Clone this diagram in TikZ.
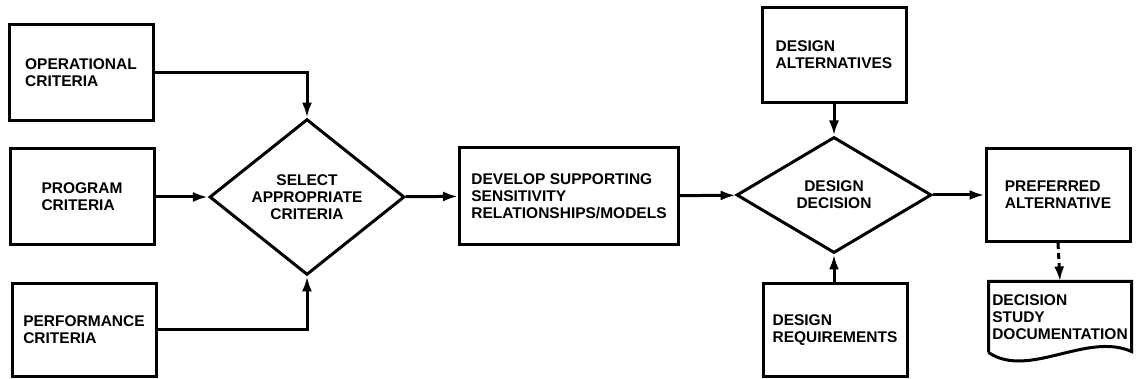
\documentclass[tikz,border=0pt]{standalone}
\usepackage{fontspec}
\setmainfont{Liberation Sans}
\usetikzlibrary{arrows.meta,positioning,shapes.geometric}

\begin{document}
\begin{tikzpicture}[x=1pt,y=-1pt,line width=3pt,>={Latex[length=15pt,width=10pt]},
    font=\bfseries\fontsize{15.5}{17}\selectfont]
  \tikzstyle{block}=[draw,rectangle,align=left,inner sep=0pt,minimum width=144pt,minimum height=96pt]
  \tikzstyle{decision}=[draw,diamond,align=center,inner sep=0pt,minimum width=195pt,minimum height=116pt]
  \useasboundingbox (0,0) rectangle (1136,379);

  \node[block] (oper) at (81,73) {OPERATIONAL\\CRITERIA};
  \node[block] (prog) at (82,197) {PROGRAM\\CRITERIA};
  \node[block,minimum height=93pt] (perf) at (84,330) {PERFORMANCE\\CRITERIA};

  \node[decision] (select) at (307,197) {SELECT\\APPROPRIATE\\CRITERIA};
  \node[block,minimum width=219pt,minimum height=97pt] (develop) at (569,196) {DEVELOP SUPPORTING\\SENSITIVITY\\RELATIONSHIPS/MODELS};

  \node[decision] (decide) at (834,195) {DESIGN\\DECISION};
  \node[block,minimum height=95pt] (alter) at (834,55) {DESIGN\\ALTERNATIVES};
  \node[block,minimum height=93pt] (requ) at (835,330) {DESIGN\\REQUIREMENTS};

  \node[block,minimum height=93pt] (prefer) at (1058,195) {PREFERRED\\ALTERNATIVE};
  \node[rectangle,align=left,inner sep=0pt,minimum width=140pt,minimum height=68pt] (doc) at (1060,317)
    {DECISION\\STUDY\\DOCUMENTATION};
  \draw (doc.south west) -- (doc.north west) -- (doc.north east) -- ([yshift=1pt]doc.south east)
    .. controls +(-45,-20) and +(40,27) .. (doc.south west);

  \draw[->] (oper.east) -| (select.north);
  \draw[->] (perf.east) -| (select.south);
  \path[->]
  (prog)    edge (select)
  (select)  edge (develop)
  (develop) edge (decide)
  (alter)   edge (decide)
  (requ.north -| decide.south) edge (decide.south)
  (decide)  edge (prefer);
  \draw[->,dash pattern=on 6pt off 4pt] (prefer.south) -- (doc.north);
\end{tikzpicture}
\end{document}
